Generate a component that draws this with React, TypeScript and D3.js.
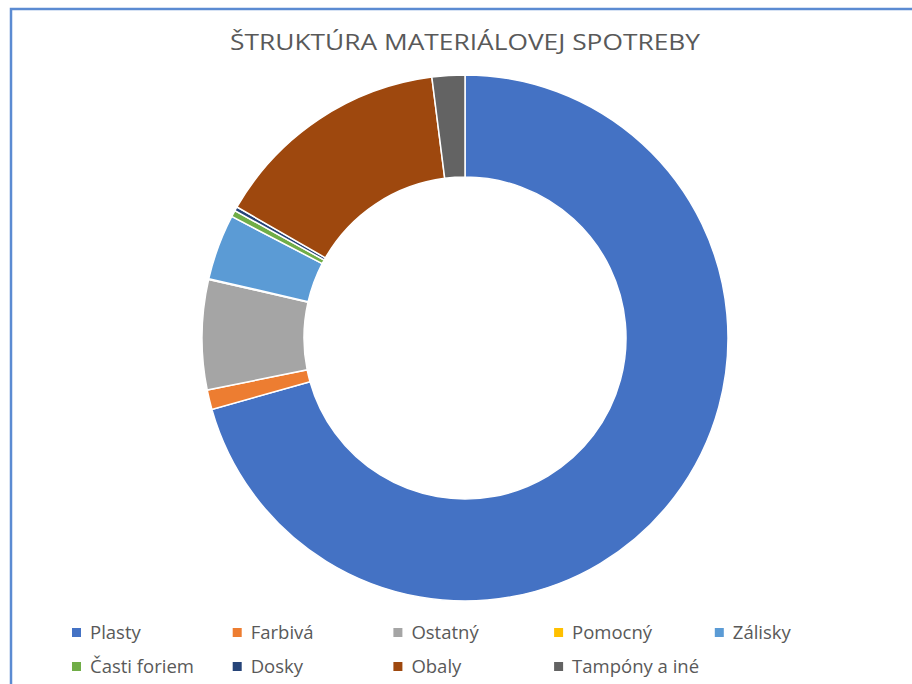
import React, { useEffect, useRef } from 'react';
import * as d3 from 'd3';

// share of each material (percent)
const categories = ['Plasty', 'Farbivá', 'Ostatný', 'Pomocný', 'Zálisky', 'Časti foriem', 'Dosky', 'Obaly', 'Tampóny a iné'];
const values = [70.2, 1.2, 6.7, 0.05, 4.0, 0.4, 0.25, 14.6, 2.0];
const colors = ['#4472C4', '#ED7D31', '#A5A5A5', '#FFC000', '#5B9BD5', '#70AD47', '#264478', '#9E480E', '#636363'];
const title = 'ŠTRUKTÚRA MATERIÁLOVEJ SPOTREBY';

export default function App() {
  const ref = useRef<SVGSVGElement>(null);

  useEffect(() => {
    const svg = d3.select(ref.current);
    svg.selectAll('*').remove();

    var width = 912, height = 684;
    var cx = 465, cy = 338, outerR = 263, innerR = 161;
    var font = '"Open Sans", "Noto Sans", sans-serif';

    svg.append('rect').attr('width', width).attr('height', height).attr('fill', '#fff');

    // frame line (only top and left visible)
    svg.append('path')
      .attr('d', 'M11,' + height + 'V9H' + width)
      .attr('fill', 'none')
      .attr('stroke', '#5B8BD2')
      .attr('stroke-width', 2.5);

    // title
    svg.append('text')
      .attr('x', 465)
      .attr('y', 50)
      .attr('text-anchor', 'middle')
      .attr('font-family', font)
      .attr('font-size', 22)
      .attr('fill', '#595959')
      .attr('textLength', 470)
      .attr('lengthAdjust', 'spacingAndGlyphs')
      .text(title);

    var data = categories.map(function (c, i) { return { name: c, value: values[i], color: colors[i] }; });

    var pie = d3.pie<any>().sort(null).value(function (d) { return d.value; });
    var arc = d3.arc<any>().innerRadius(innerR).outerRadius(outerR);

    var g = svg.append('g').attr('transform', 'translate(' + cx + ',' + cy + ')');
    g.selectAll('path')
      .data(pie(data))
      .enter()
      .append('path')
      .attr('d', arc)
      .attr('fill', function (d) { return d.data.color; })
      .attr('stroke', '#fff')
      .attr('stroke-width', 1.5);

    // legend, 5 columns
    var colX = d3.scaleLinear().domain([0, 1]).range([72, 232.7]);
    var rowY = d3.scaleLinear().domain([0, 1]).range([639, 673]);
    var item = svg.selectAll('g.legend')
      .data(data)
      .enter()
      .append('g')
      .attr('class', 'legend')
      .attr('transform', function (d, i) { return 'translate(' + colX(i % 5) + ',' + rowY(Math.floor(i / 5)) + ')'; });

    item.append('rect')
      .attr('x', 0)
      .attr('y', -11)
      .attr('width', 9)
      .attr('height', 9)
      .attr('fill', function (d) { return d.color; });

    item.append('text')
      .attr('x', 18)
      .attr('y', 0)
      .attr('font-family', font)
      .attr('font-size', 18.5)
      .attr('fill', '#595959')
      .text(function (d) { return d.name; });
  }, []);

  return (
    <svg ref={ref} width={912} height={684} style={{ position: 'absolute', left: 0, top: 0, display: 'block' }} />
  );
}
